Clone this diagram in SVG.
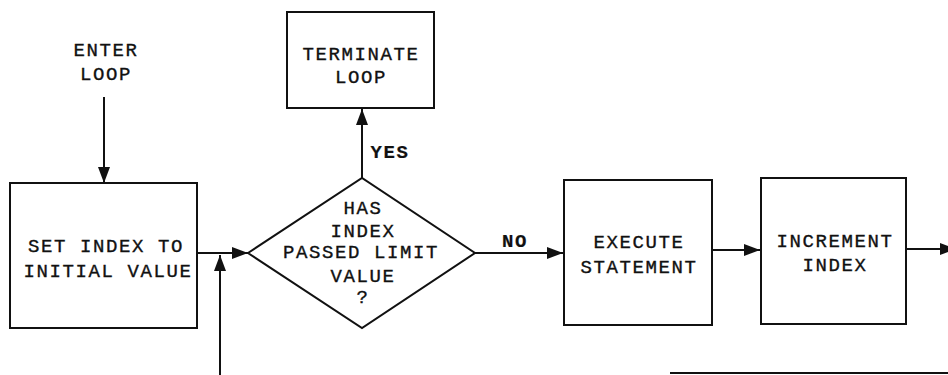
<svg xmlns="http://www.w3.org/2000/svg" width="948" height="375" viewBox="0 0 948 375">
  <defs>
    <marker id="arrow" viewBox="0 0 16 12" refX="16" refY="6" markerWidth="16" markerHeight="12" markerUnits="userSpaceOnUse" orient="auto">
      <path d="M0,0 L16,6 L0,12 Z" fill="#111"/>
    </marker>
    <style>
      .box { fill: #fff; stroke: #111; stroke-width: 2; }
      .line { fill: none; stroke: #111; stroke-width: 2; }
      .arr { marker-end: url(#arrow); }
      text { font-family: "Liberation Mono", "Courier New", monospace; font-size: 19px; letter-spacing: 1.6px; fill: #111; text-anchor: middle; stroke: #111; stroke-width: 0.35; }
      .lbl { font-weight: bold; stroke-width: 0.2; }
    </style>
  </defs>
  <rect width="948" height="375" fill="#fff"/>

  <g id="connectors">
    <line class="line arr" x1="104" y1="97" x2="104" y2="183"/>
    <line class="line arr" x1="197" y1="253" x2="248" y2="253"/>
    <line class="line arr" x1="220" y1="375" x2="220" y2="255"/>
    <line class="line arr" x1="362" y1="178" x2="362" y2="109"/>
    <line class="line arr" x1="475" y1="253" x2="563" y2="253"/>
    <line class="line arr" x1="712" y1="250" x2="760" y2="250"/>
    <line class="line arr" x1="906" y1="249" x2="956" y2="249"/>
    <line class="line" x1="670" y1="373" x2="948" y2="373"/>
  </g>

  <g id="enter-loop">
    <text x="106" y="56">ENTER</text>
    <text x="106" y="80">LOOP</text>
  </g>

  <g id="set-index">
    <rect class="box" x="10" y="183" width="187" height="145"/>
    <text x="106" y="252">SET INDEX TO</text>
    <text x="108" y="277">INITIAL VALUE</text>
  </g>

  <g id="decision">
    <polygon class="box" points="248,253 362,178 475,253 362,328"/>
    <text x="363" y="214">HAS</text>
    <text x="363" y="237">INDEX</text>
    <text x="361" y="258">PASSED LIMIT</text>
    <text x="363" y="282">VALUE</text>
    <text x="363" y="303">?</text>
  </g>

  <g id="terminate-loop">
    <rect class="box" x="287" y="12" width="147" height="96"/>
    <text x="361" y="60">TERMINATE</text>
    <text x="361" y="83">LOOP</text>
  </g>

  <g id="labels">
    <text class="lbl" x="390" y="158">YES</text>
    <text class="lbl" x="515" y="247">NO</text>
  </g>

  <g id="execute-statement">
    <rect class="box" x="564" y="180" width="148" height="145"/>
    <text x="639" y="248">EXECUTE</text>
    <text x="639" y="273">STATEMENT</text>
  </g>

  <g id="increment-index">
    <rect class="box" x="761" y="178" width="145" height="146"/>
    <text x="835" y="247">INCREMENT</text>
    <text x="835" y="271">INDEX</text>
  </g>
</svg>
